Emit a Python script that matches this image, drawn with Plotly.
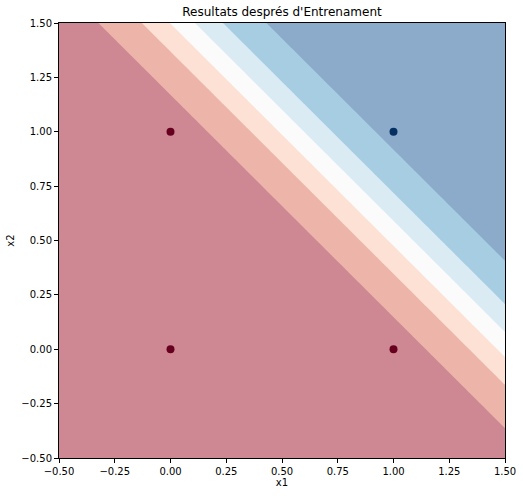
import numpy as np
import plotly.graph_objects as go

# Training points (AND gate) and their labels
x1_points = [0, 0, 1, 1]
x2_points = [0, 1, 0, 1]
labels = [0, 0, 0, 1]

# Trained model (sigmoid output)
weights = [5.62, 5.5]
bias = -8.55

# Contour levels of the output
level_start = 0.1075
level_size = 0.157
level_end = 0.8925

# Band colours (RdBu at alpha 0.5 over white)
band_colors = ["#ce8893", "#edb5aa", "#fce1d4", "#fbfbfb", "#dbebf4", "#a7cde3", "#8cabcb"]
point_colors = {0: "#67001f", 1: "#053061"}

tick_vals = [-0.5, -0.25, 0.0, 0.25, 0.5, 0.75, 1.0, 1.25, 1.5]

gx = np.linspace(-0.5, 1.5, 501)
gy = np.linspace(-0.5, 1.5, 501)
GX, GY = np.meshgrid(gx, gy)
Z = 1.0 / (1.0 + np.exp(-(weights[0] * GX + weights[1] * GY + bias)))

n = len(band_colors)
cs = []
for i, c in enumerate(band_colors):
    cs.append([i / n, c])
    cs.append([(i + 1) / n, c])

zmin = level_start - level_size
zmax = level_end + level_size
mid = (zmin + zmax) / 2
half = 3.5 * level_size

fig = go.Figure()
fig.add_trace(go.Contour(
    x=gx, y=gy, z=Z,
    colorscale=cs, zmin=mid - half, zmax=mid + half,
    contours=dict(start=level_start, end=level_end, size=level_size, coloring="fill"),
    line=dict(width=0),
    showscale=False, hoverinfo="skip",
))
fig.add_trace(go.Scatter(
    x=x1_points, y=x2_points, mode="markers",
    marker=dict(size=8, color=[point_colors[l] for l in labels], line=dict(width=0)),
    showlegend=False, cliponaxis=False,
))

axis_common = dict(
    tickvals=tick_vals, tickformat=".2f", ticks="outside", ticklen=4, tickwidth=1,
    tickcolor="black", showline=True, linecolor="black", linewidth=1, mirror=True,
    showgrid=False, zeroline=False, tickfont=dict(size=10, color="black"),
    automargin=False,
)
fig.update_layout(
    width=523, height=496,
    margin=dict(l=59, r=18, t=23, b=38, autoexpand=False),
    paper_bgcolor="white", plot_bgcolor="white",
    font=dict(family="DejaVu Sans", color="black"),
    title=dict(text="Resultats després d'Entrenament", x=0.5, xanchor="center",
               xref="paper", y=1 - 12 / 496, yref="container", yanchor="middle",
               font=dict(size=12)),
    xaxis=dict(range=[-0.5, 1.5], title=dict(text="x1", font=dict(size=10), standoff=2), **axis_common),
    yaxis=dict(range=[-0.5, 1.5], title=dict(text="x2", font=dict(size=10), standoff=4), **axis_common),
)
fig.write_html("out.html", config={"displayModeBar": False},
               post_script="document.body.style.margin='0';")
